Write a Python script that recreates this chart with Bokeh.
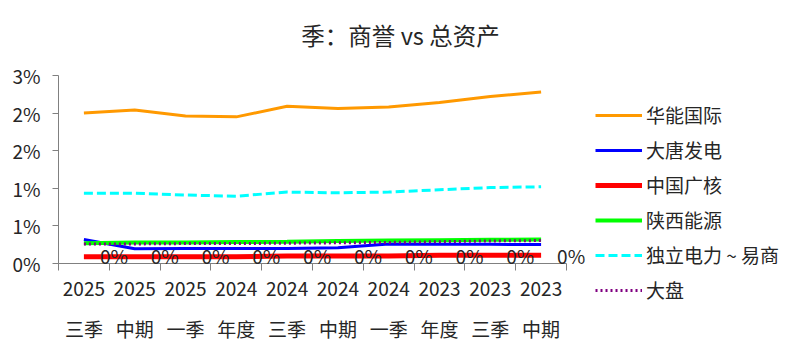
from bokeh.plotting import figure
from bokeh.models import (Range1d, FixedTicker, Legend, LegendItem, ColumnDataSource, LabelSet, Label)
from bokeh.core.properties import value
from bokeh.embed import file_html
from bokeh.resources import INLINE

title_text = "季：商誉 vs 总资产"
years = ["2025", "2025", "2025", "2024", "2024", "2024", "2024", "2023", "2023", "2023"]
periods = ["三季", "中期", "一季", "年度", "三季", "中期", "一季", "年度", "三季", "中期"]
categories = [f"{y}\n{q}" for y, q in zip(years, periods)]

# values in percent
huaneng = [2.00, 2.04, 1.96, 1.95, 2.09, 2.06, 2.08, 2.14, 2.22, 2.28]
datang = [0.32, 0.195, 0.20, 0.20, 0.20, 0.21, 0.26, 0.257, 0.255, 0.253]
cgn = [0.09, 0.09, 0.09, 0.09, 0.10, 0.10, 0.10, 0.11, 0.11, 0.11]
shaanxi = [0.27, 0.28, 0.28, 0.285, 0.29, 0.30, 0.305, 0.31, 0.315, 0.32]
independent = [0.935, 0.935, 0.91, 0.895, 0.95, 0.94, 0.95, 0.98, 1.01, 1.02]
market = [0.26, 0.26, 0.265, 0.265, 0.27, 0.275, 0.28, 0.29, 0.30, 0.305]
zero_labels = ["0%"] * 10

y_ticks = [0, 0.5, 1.0, 1.5, 2.0, 2.5]
y_tick_labels = ["0%", "1%", "1%", "2%", "2%", "3%"]

series = [
    ("华能国际", huaneng, "#FF9900", 3, "solid"),
    ("大唐发电", datang, "#0000FF", 3, "solid"),
    ("中国广核", cgn, "#FF0000", 5, "solid"),
    ("陕西能源", shaanxi, "#00FF00", 4, "solid"),
    ("独立电力 ~ 易商", independent, "#00FFFF", 3, "9 4"),
    ("大盘", market, "#800080", 3, "2 3"),
]

FONT = "Noto Sans CJK SC"
TXT = "#262626"
AX = "#808080"

W, H = 800, 353
n = len(categories)
xs = [i + 0.5 for i in range(n)]

# plot area geometry (pixels): axes origin and scale
X0, Y0 = 58, 263           # pixel of x=0 / y=0
XU = (566 - 58) / n        # pixels per category
YU = (263 - 75) / 2.5      # pixels per percent

p = figure(width=W, height=H, output_backend="svg", toolbar_location=None,
           x_range=Range1d(-X0 / XU, (W - X0) / XU),
           y_range=Range1d(-(H - Y0) / YU, Y0 / YU),
           min_border=0, min_border_left=0, min_border_right=0,
           min_border_top=0, min_border_bottom=0)
p.outline_line_color = None
p.grid.visible = False

items = []
for name, vals, color, lw, dash in series:
    r = p.line(xs, vals, line_color=color, line_width=lw, line_dash=dash)
    items.append(LegendItem(label=name, renderers=[r]))

src = ColumnDataSource(dict(x=xs, y=[0] * n, t=zero_labels))
p.add_layout(LabelSet(x="x", y="y", text="t", source=src, x_offset=16, y_offset=0,
                      text_align="left", text_baseline="alphabetic",
                      text_font=value(FONT), text_font_size=value("19px"), text_color=TXT))

xa = p.xaxis[0]
xa.fixed_location = 0
xa.bounds = (0, n)
xa.ticker = FixedTicker(ticks=xs, minor_ticks=list(range(n + 1)))
xa.major_label_overrides = {x: c for x, c in zip(xs, categories)}
xa.major_tick_out = 0
xa.major_tick_in = 0
xa.minor_tick_out = 7
xa.minor_tick_in = 0
xa.minor_tick_line_color = AX
xa.axis_line_color = AX
xa.major_label_text_font = FONT
xa.major_label_text_font_size = "19px"
xa.major_label_text_color = TXT
xa.major_label_text_line_height = 1.55
xa.major_label_standoff = 3

ya = p.yaxis[0]
ya.fixed_location = 0
ya.bounds = (0, 2.5)
ya.ticker = FixedTicker(ticks=y_ticks, minor_ticks=[])
ya.major_label_overrides = {t: l for t, l in zip(y_ticks, y_tick_labels)}
ya.major_tick_out = 6
ya.major_tick_in = 0
ya.minor_tick_out = 0
ya.minor_tick_in = 0
ya.major_tick_line_color = AX
ya.axis_line_color = AX
ya.major_label_text_font = FONT
ya.major_label_text_font_size = "19px"
ya.major_label_text_color = TXT
ya.major_label_standoff = 12

legend = Legend(items=items, location=(595, 50), padding=0, margin=0,
                glyph_width=47, glyph_height=20, label_height=20, spacing=8,
                label_standoff=4, label_text_font=FONT, label_text_font_size="19px",
                label_text_color=TXT, border_line_color=None, background_fill_alpha=0)
p.add_layout(legend)

p.add_layout(Label(x=400, y=H - 34, x_units="screen", y_units="screen", text=title_text,
                   text_align="center", text_baseline="middle", text_font=FONT,
                   text_font_size="23.5px", text_color=TXT))

open("out.html", "w").write(file_html(p, INLINE))
